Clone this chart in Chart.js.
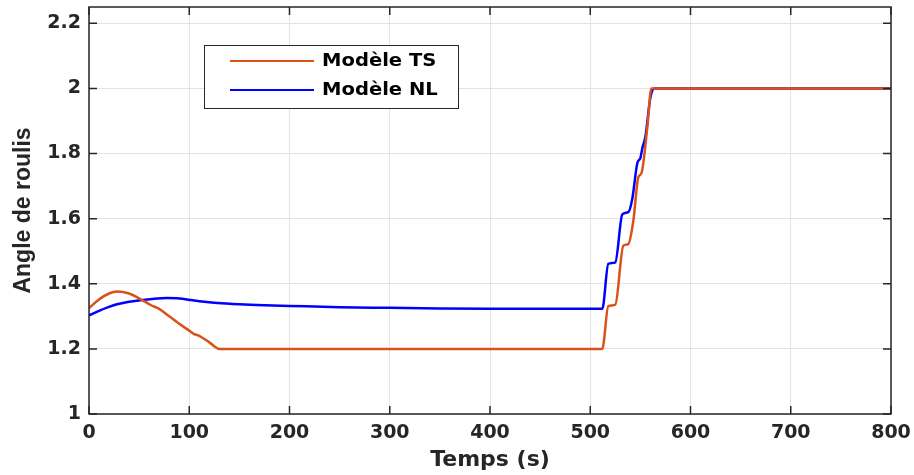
<!DOCTYPE html>
<html>
<head>
<meta charset="utf-8">
<script src="https://cdn.jsdelivr.net/npm/chart.js@4.4.0/dist/chart.umd.min.js"></script>
<style>
  html, body { margin: 0; padding: 0; background: #fff; }
  #wrap { width: 914px; height: 475px; position: relative; }
</style>
</head>
<body>
<div id="wrap"><canvas id="rollChart"></canvas></div>
<script>
// Modèle TS (orange)
const tsTime = [0, 10, 20, 28, 40, 53, 62, 70, 80, 90, 100, 105, 110, 120, 130, 200, 300, 400, 512,
    518, 525, 533, 538, 543, 548, 551, 557, 561, 565, 800];
const tsAngle = [1.325, 1.352, 1.370, 1.376, 1.370, 1.350, 1.334, 1.323, 1.300, 1.277, 1.256, 1.245, 1.240, 1.220, 1.200, 1.200, 1.200, 1.200, 1.200,
    1.331, 1.336, 1.517, 1.522, 1.594, 1.728, 1.739, 1.882, 2.0, 2.0, 2.0];

// Modèle NL (bleu)
const nlTime = [0, 10, 20, 28, 40, 53, 65, 78, 90, 102, 115, 128, 150, 175, 200, 250, 300, 350, 400, 450, 512,
    518, 525, 532, 538, 542, 547, 550, 552, 555, 560, 564, 800];
const nlAngle = [1.303, 1.317, 1.329, 1.337, 1.345, 1.350, 1.354, 1.356, 1.355, 1.350, 1.345, 1.341, 1.337, 1.334, 1.332, 1.328, 1.326, 1.324, 1.323, 1.323, 1.323,
    1.461, 1.466, 1.613, 1.620, 1.662, 1.771, 1.786, 1.817, 1.851, 1.972, 2.0, 2.0];

const xTicks = [0, 100, 200, 300, 400, 500, 600, 700, 800];
const yTicks = [1, 1.2, 1.4, 1.6, 1.8, 2, 2.2];

const toPoints = (xs, ys) => xs.map((x, i) => ({ x, y: ys[i] }));

const numFont = { family: '"DejaVu Sans", sans-serif', weight: 'bold', size: 19 };

// MATLAB-style box with inward ticks + legend inside the axes
const matlabFrame = {
    id: 'matlabFrame',
    afterDatasetsDraw(chart) {
        const { ctx, chartArea: a, scales } = chart;
        ctx.save();
        ctx.strokeStyle = '#262626';
        ctx.lineWidth = 1.5;
        ctx.strokeRect(a.left, a.top, a.right - a.left, a.bottom - a.top);
        ctx.beginPath();
        xTicks.forEach(v => {
            const px = scales.x.getPixelForValue(v);
            ctx.moveTo(px, a.bottom); ctx.lineTo(px, a.bottom - 8);
            ctx.moveTo(px, a.top); ctx.lineTo(px, a.top + 8);
        });
        yTicks.forEach(v => {
            const py = scales.y.getPixelForValue(v);
            ctx.moveTo(a.left, py); ctx.lineTo(a.left + 8, py);
            ctx.moveTo(a.right, py); ctx.lineTo(a.right - 8, py);
        });
        ctx.stroke();

        // legend
        const lx = 204, ly = 45, lw = 254, lh = 63;
        ctx.fillStyle = '#fff';
        ctx.fillRect(lx, ly, lw, lh);
        ctx.strokeStyle = '#262626';
        ctx.lineWidth = 1;
        ctx.strokeRect(lx + 0.5, ly + 0.5, lw, lh);
        ctx.textBaseline = 'middle';
        chart.data.datasets.forEach((ds, i) => {
            const yy = ly + 16 + i * 29;
            ctx.strokeStyle = ds.borderColor;
            ctx.lineWidth = 2;
            ctx.beginPath();
            ctx.moveTo(lx + 26, yy); ctx.lineTo(lx + 110, yy);
            ctx.stroke();
            ctx.save();
            ctx.translate(lx + 118, yy);
            ctx.scale(1.15, 1);
            ctx.font = 'bold 17px "DejaVu Sans", sans-serif';
            ctx.fillStyle = '#000';
            ctx.fillText(ds.label, 0, 1);
            ctx.restore();
        });
        ctx.restore();
    }
};

new Chart(document.getElementById('rollChart'), {
    type: 'line',
    data: {
        datasets: [{
            label: 'Modèle TS',
            data: toPoints(tsTime, tsAngle),
            borderColor: '#D95319',
            borderWidth: 2.5,
            pointRadius: 0,
            cubicInterpolationMode: 'monotone',
            fill: false
        }, {
            label: 'Modèle NL',
            data: toPoints(nlTime, nlAngle),
            borderColor: '#0000FF',
            borderWidth: 2.5,
            pointRadius: 0,
            cubicInterpolationMode: 'monotone',
            fill: false
        }]
    },
    options: {
        responsive: true,
        maintainAspectRatio: false,
        animation: false,
        layout: { padding: { left: 0, right: 23, top: 7, bottom: 2 } },
        plugins: {
            legend: { display: false },
            tooltip: { enabled: false }
        },
        scales: {
            x: {
                type: 'linear',
                min: 0,
                max: 800,
                afterBuildTicks: s => { s.ticks = xTicks.map(v => ({ value: v })); },
                afterFit: s => { s.height = 59; s.paddingLeft = 0; s.paddingRight = 0; },
                grid: { color: '#e3e3e3', drawTicks: false },
                border: { display: false },
                ticks: { color: '#262626', font: numFont, padding: 8, maxRotation: 0 },
                title: {
                    display: true,
                    text: 'Temps (s)',
                    color: '#262626',
                    font: { family: '"DejaVu Sans", sans-serif', weight: 'bold', size: 22 },
                    padding: { top: 0, bottom: 0 }
                }
            },
            y: {
                min: 1,
                max: 2.25,
                afterBuildTicks: s => { s.ticks = yTicks.map(v => ({ value: v })); },
                afterFit: s => { s.width = 89; s.paddingTop = 0; s.paddingBottom = 0; },
                grid: { color: '#e3e3e3', drawTicks: false },
                border: { display: false },
                ticks: { color: '#262626', font: numFont, padding: 8, callback: v => String(v) },
                title: {
                    display: true,
                    text: 'Angle de roulis',
                    color: '#262626',
                    font: { family: '"Liberation Sans", Arial, sans-serif', weight: 'bold', size: 23 },
                    padding: { top: 10, bottom: 0 }
                }
            }
        }
    },
    plugins: [matlabFrame]
});
</script>
</body>
</html>
